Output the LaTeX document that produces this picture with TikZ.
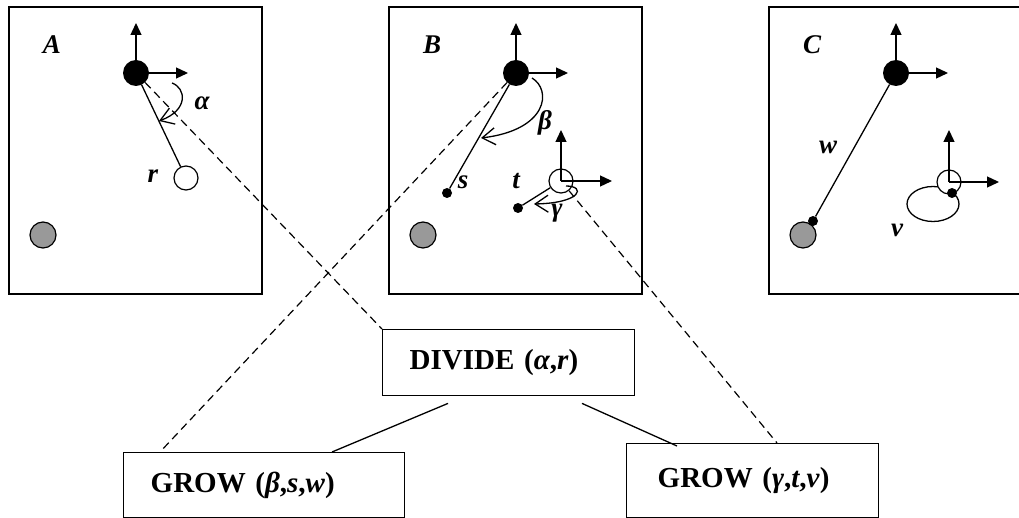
\documentclass[tikz,border=0pt]{standalone}
\usepackage{fontspec}
\setmainfont{Liberation Serif}
\usetikzlibrary{arrows.meta,calc}

\begin{document}
\begin{tikzpicture}[x=1pt,y=-1pt,
  panel/.style={draw,line width=1.6pt,minimum width=253pt,minimum height=287pt,inner sep=0pt,anchor=north west},
  joint/.style={circle,fill=black,minimum size=26pt,inner sep=0pt},
  pin/.style={circle,fill=black,minimum size=10pt,inner sep=0pt},
  hollow/.style={circle,draw,fill=white,line width=1.2pt,minimum size=24pt,inner sep=0pt},
  base/.style={circle,draw,fill=gray!80,line width=1.2pt,minimum size=26pt,inner sep=0pt},
  axis/.style={line width=1.3pt,-{Triangle[length=12pt,width=11pt]}},
  turn/.style={line width=1.3pt,-{Straight Barb[length=13pt,width=17pt]}},
  op/.style={draw,line width=1.4pt,font=\fontsize{29}{33}\selectfont\bfseries,align=left,inner ysep=0pt,anchor=north west},
  lbl/.style={font=\fontsize{27}{31}\selectfont\bfseries\itshape,inner sep=0pt},
  link/.style={line width=1.2pt,dash pattern=on 8pt off 5pt}]
\useasboundingbox (0,0) rectangle (1019,518);

% the three snapshots
\foreach \p/\dx in {A/0,B/380,C/760} {
  \node[panel] (pan\p) at (8+\dx,6) {};
  \node[lbl] (lbl\p) at (52+\dx,45) {\p};
  \node[base] (g\p) at (43+\dx,235) {};
  \node[joint] (j\p) at (136+\dx,73) {};
  \draw[axis] (j\p.center) -- ++(0,-50);
  \draw[axis] (j\p.center) -- ++(52,0);
}

% A: divide
\node[hollow] (hA) at (186,178) {};
\draw[line width=1.3pt] (jA) -- (hA);
\draw[turn] (172,83) .. controls (186,88) and (189,110) .. (159,121);
\node[lbl] (alpha) at (202,103) {α};
\node[lbl] (r) at (153,176) {r};

% B: grow towards s and t
\node[pin] (sB) at (447,193) {};
\draw[line width=1.3pt] (jB) -- (sB);
\draw[turn] (532,78) .. controls (552,90) and (548,130) .. (481,138);
\node[lbl] (beta) at (545,123) {β};
\node[lbl] (s) at (463,182) {s};
\node[hollow] (hB) at (561,181) {};
\draw[axis] (hB.center) -- ++(0,-51);
\draw[axis] (hB.center) -- ++(51,0);
\node[pin] (tB) at (518,208) {};
\draw[line width=1.3pt] (tB) -- (hB);
\draw[turn] (566,186) .. controls (586,186) and (582,203) .. (534,204);
\node[lbl] (t) at (516,181) {t};
\node[lbl] (gamma) at (557,213) {γ};

% C: result
\node[pin] (wC) at (813,221) {};
\draw[line width=1.3pt] (jC) -- (wC);
\node[lbl] (w) at (828,147) {w};
\draw[line width=1.3pt] (933,204) ellipse (26 and 17.5);
\node[hollow] (hC) at (949,182) {};
\draw[axis] (hC.center) -- ++(0,-52);
\draw[axis] (hC.center) -- ++(50,0);
\node[pin] (vC) at (952,193) {};
\node[lbl] (v) at (897,230) {v};

% operations
\node[op,minimum height=66pt,text width=198pt,inner xsep=27pt] (divide) at (382,329) {DIVIDE (\textit{α},\textit{r})};
\node[op,minimum height=65pt,text width=227pt,inner xsep=27pt] (growL) at (123,452) {GROW (\textit{β},\textit{s},\textit{w})};
\node[op,minimum height=74pt,text width=190pt,inner xsep=31pt] (growR) at (626,443) {GROW (\textit{γ},\textit{t},\textit{v})};

\coordinate (dL) at ($(divide.south west)+(66,7)$);
\coordinate (dR) at ($(divide.south west)+(200,7)$);
\coordinate (gL) at ($(growL.north west)+(209,0)$);
\coordinate (gR) at ($(growR.north west)+(51,3)$);
\draw[line width=1.3pt] (dL) -- (gL);
\draw[line width=1.3pt] (dR) -- (gR);

\coordinate (kL) at ($(growL.north west)+(37,0)$);
\coordinate (kR) at ($(growR.north west)+(151,0)$);
\draw[link] (jA) -- (divide.north west);
\draw[link] (jB) -- (kL);
\draw[link] (hB) -- (kR);
\end{tikzpicture}
\end{document}
